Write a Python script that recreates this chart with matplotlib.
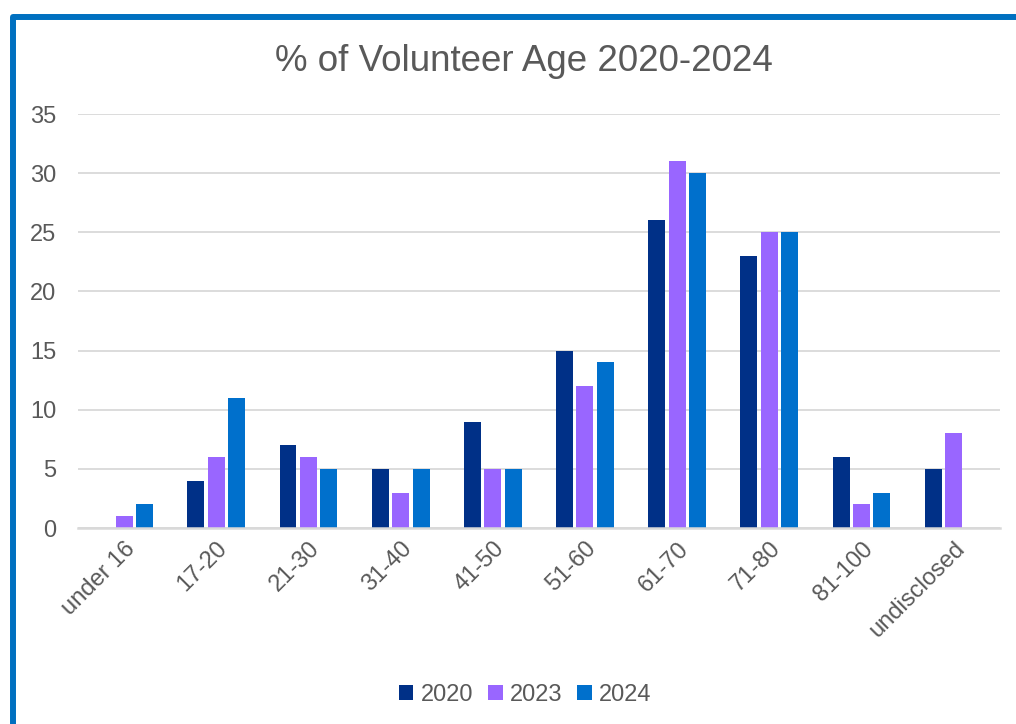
import numpy as np
import matplotlib.pyplot as plt
from matplotlib.patches import Rectangle

plt.rcParams['font.family'] = ['Liberation Sans', 'DejaVu Sans']

# Data
age_groups = ["under 16", "17-20", "21-30", "31-40", "41-50",
              "51-60", "61-70", "71-80", "81-100", "undisclosed"]
years = ["2020", "2023", "2024"]
pct_2020 = [0, 4, 7, 5, 9, 15, 26, 23, 6, 5]
pct_2023 = [1, 6, 6, 3, 5, 12, 31, 25, 2, 8]
pct_2024 = [2, 11, 5, 5, 5, 14, 30, 25, 3, 0]
colors = ["#003087", "#9966FF", "#0070CC"]

text_color = "#595959"
grid_color = "#D9D9D9"

fig = plt.figure(figsize=(10.16, 7.24), dpi=100)
ax = fig.add_axes([0.0768, 0.2707, 0.9072, 0.5718])

x = np.arange(len(age_groups))
bar_w = 0.184
step = 0.222
for i, (vals, col, yr) in enumerate(zip([pct_2020, pct_2023, pct_2024], colors, years)):
    ax.bar(x + (i - 1) * step, vals, width=bar_w, color=col, label=yr, zorder=3)

ax.set_xlim(-0.5, len(age_groups) - 0.5)
ax.set_ylim(0, 35)
ax.set_yticks(range(0, 36, 5))
ax.set_xticks(x)
ax.set_xticklabels(age_groups, rotation=45, ha="right", rotation_mode="anchor")
ax.tick_params(axis="both", length=0, labelsize=17, colors=text_color)
ax.tick_params(axis="y", pad=15.5)
ax.tick_params(axis="x", pad=7)

ax.grid(axis="y", color=grid_color, linewidth=1.3, zorder=0)
for side in ["top", "right", "left"]:
    ax.spines[side].set_visible(False)
ax.spines["bottom"].set_color(grid_color)
ax.spines["bottom"].set_linewidth(1.8)
ax.spines["bottom"].set_zorder(4)

fig.text(0.516, 0.915, "% of Volunteer Age 2020-2024", ha="center", va="center",
         fontsize=26.5, color=text_color)

fig.legend(loc="center", bbox_to_anchor=(0.517, 0.040), ncol=3, frameon=False,
           fontsize=17, labelcolor=text_color, handlelength=0.6, handleheight=0.6,
           handletextpad=0.3, columnspacing=0.65)

# Blue frame around the chart
fig.add_artist(Rectangle((13 / 1016, -0.1), 1.2, (724 - 17) / 724 + 0.1,
                         transform=fig.transFigure, fill=False,
                         edgecolor="#0070C0", linewidth=4.3, joinstyle="round"))

fig.savefig("out.png", dpi=100)
